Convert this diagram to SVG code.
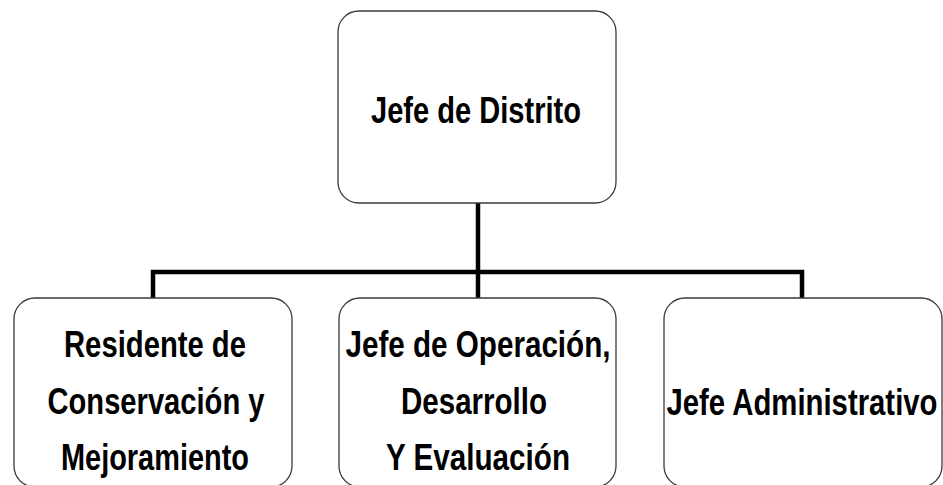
<svg xmlns="http://www.w3.org/2000/svg" width="943" height="485" viewBox="0 0 943 485">
<style>
  .box { fill: #ffffff; stroke: #3a3a3a; stroke-width: 1.3; }
  .conn { fill: none; stroke: #000000; stroke-width: 4.5; stroke-linecap: butt; stroke-linejoin: miter; }
  .lbl { font-family: "Liberation Sans Narrow", "Liberation Sans", Arial, sans-serif; font-weight: bold; font-size: 37px; fill: #000000; text-anchor: middle; }
</style>
<rect width="943" height="485" fill="#ffffff"/>
<g id="connectors">
  <path class="conn" d="M478,203 V272"/>
  <path class="conn" d="M153,298 V272 H802 V298"/>
  <path class="conn" d="M478,272 V298"/>
</g>
<g id="node-jefe-distrito">
  <rect class="box" x="338" y="11" width="278" height="192" rx="21" ry="21"/>
  <text class="lbl" x="476" y="123" textLength="210" lengthAdjust="spacingAndGlyphs">Jefe de Distrito</text>
</g>
<g id="node-residente">
  <rect class="box" x="14" y="298" width="278" height="189" rx="21" ry="21"/>
  <text class="lbl" x="155" y="357" textLength="182" lengthAdjust="spacingAndGlyphs">Residente de</text>
  <text class="lbl" x="156" y="414" textLength="217" lengthAdjust="spacingAndGlyphs">Conservación y</text>
  <text class="lbl" x="155" y="470" textLength="188" lengthAdjust="spacingAndGlyphs">Mejoramiento</text>
</g>
<g id="node-operacion">
  <rect class="box" x="339" y="298" width="277" height="189" rx="21" ry="21"/>
  <text class="lbl" x="478" y="357" textLength="265" lengthAdjust="spacingAndGlyphs">Jefe de Operación,</text>
  <text class="lbl" x="474" y="414" textLength="146" lengthAdjust="spacingAndGlyphs">Desarrollo</text>
  <text class="lbl" x="478" y="470" textLength="184" lengthAdjust="spacingAndGlyphs">Y Evaluación</text>
</g>
<g id="node-administrativo">
  <rect class="box" x="664" y="298" width="278" height="189" rx="21" ry="21"/>
  <text class="lbl" x="802" y="415" textLength="271" lengthAdjust="spacingAndGlyphs">Jefe Administrativo</text>
</g>
</svg>
